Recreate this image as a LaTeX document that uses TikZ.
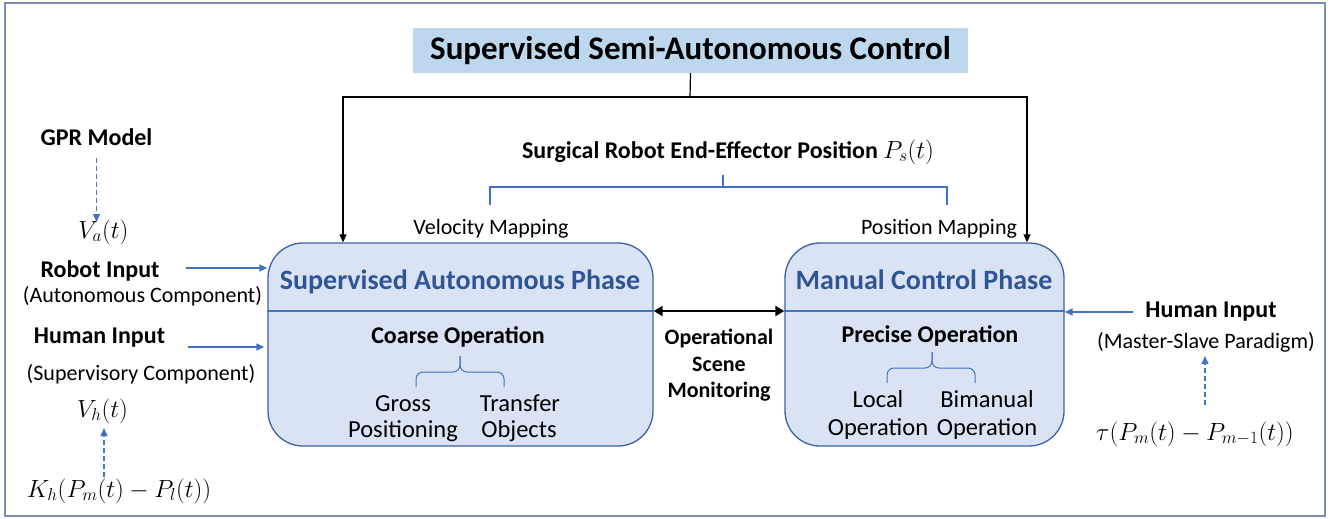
\documentclass[tikz,border=0pt]{standalone}
\usepackage[no-math]{fontspec}
\setmainfont{Carlito}
\usetikzlibrary{arrows.meta}
\definecolor{titlefill}{HTML}{BDD7EE}
\definecolor{boxfill}{HTML}{DAE3F3}
\definecolor{boxline}{HTML}{3A62A8}
\definecolor{phasetext}{HTML}{2F5597}
\definecolor{arrowblue}{HTML}{4472C4}
\definecolor{framecol}{HTML}{7A8DB5}
\tikzset{
  lbl/.style={inner sep=0pt, anchor=base, font=\fontsize{24}{28}\selectfont\bfseries},
  txt/.style={inner sep=0pt, anchor=base, font=\fontsize{22}{26}\selectfont},
  intxt/.style={inner sep=0pt, anchor=base, font=\fontsize{24.5}{28}\selectfont},
  mth/.style={inner sep=0pt, anchor=base, font=\fontsize{24}{28}\selectfont},
  phasetitle/.style={inner sep=0pt, anchor=base, text=phasetext, font=\fontsize{28}{32}\selectfont\bfseries},
  phasebox/.style={draw=boxline, fill=boxfill, line width=1.3pt, rounded corners=35pt, inner sep=0pt},
  titlebox/.style={fill=titlefill, inner sep=0pt, font=\fontsize{33}{38}\selectfont\bfseries},
  blk/.style={draw=black, line width=1.2pt},
  blkarrow/.style={blk, -{Triangle[length=8pt,width=7pt]}},
  dblarrow/.style={draw=black, line width=2.6pt, {Triangle[length=9pt,width=10pt]}-{Triangle[length=9pt,width=10pt]}},
  bluearrow/.style={draw=arrowblue, line width=1.3pt, -{Triangle[length=8pt,width=7pt]}},
  dasharrow/.style={draw=arrowblue, line width=1.3pt, dash pattern=on 5pt off 3pt, -{Triangle[length=8pt,width=7pt]}},
  bracket/.style={draw=arrowblue, line width=1.5pt},
  bracestyle/.style={draw=arrowblue, line width=1pt, rounded corners=7pt},
  divider/.style={draw=arrowblue, line width=1.2pt},
}
\begin{document}
\begin{tikzpicture}[x=1pt,y=-1pt]
\useasboundingbox (0,0) rectangle (1338,519);
\draw[draw=framecol, line width=1.2pt] (5,3) rectangle (1325,516);

% title
\node[titlebox, minimum width=555pt, minimum height=45pt] (title) at (690.5,50.5) {Supervised Semi-Autonomous Control};

% phase boxes
\node[phasebox, minimum width=385pt, minimum height=203pt] (lbox) at (460.5,344.5) {};
\node[phasebox, minimum width=279pt, minimum height=203pt] (rbox) at (924.5,344.5) {};
\coordinate (ldiv) at (268,311);
\coordinate (rdiv) at (1064,311);
\draw[divider] (lbox.west |- ldiv) -- (lbox.east |- ldiv);
\draw[divider] (rbox.west |- rdiv) -- (rbox.east |- rdiv);

% top connectors
\coordinate (split) at (690,97);
\coordinate (lturn) at (343,97);
\coordinate (rturn) at (1027,97);
\draw[blk] (title.south) -- (split);
\draw[blkarrow] (split) -- (lturn) -- (lturn |- lbox.north);
\draw[blkarrow] (split) -- (rturn) -- (rturn |- rbox.north);

% surgical robot label and bracket
\node[lbl] (surg) at (728,158) {Surgical Robot End-Effector Position {\mdseries$P_s(t)$}};
\coordinate (bt) at (723,175);
\coordinate (bm) at (723,187);
\coordinate (bl) at (490,205);
\coordinate (br) at (947,205);
\draw[bracket] (bt) -- (bm);
\draw[bracket] (bl) -- (bl |- bm) -- (br |- bm) -- (br);
\node[txt] (vmap) at (491,234) {Velocity Mapping};
\node[txt] (pmap) at (939,234) {Position Mapping};

% left phase contents
\node[phasetitle] (sap) at (460,289) {Supervised Autonomous Phase};
\node[lbl] (coarse) at (458,343) {Coarse Operation};
\draw[bracestyle] (416,387) -- (416,372) -- (460,372) -- (460,356);
\draw[bracestyle] (504,387) -- (504,372) -- (460,372) -- (460,356);
\node[intxt] (gross1) at (403,411) {Gross};
\node[intxt] (gross2) at (403,437) {Positioning};
\node[intxt] (trans1) at (520,411) {Transfer};
\node[intxt] (trans2) at (519,437) {Objects};

% right phase contents
\node[phasetitle] (mcp) at (924,289) {Manual Control Phase};
\node[lbl] (precise) at (930,342) {Precise Operation};
\draw[bracestyle] (887,383) -- (887,368) -- (932,368) -- (932,352);
\draw[bracestyle] (975,383) -- (975,368) -- (932,368) -- (932,352);
\node[intxt] (local1) at (878,407) {Local};
\node[intxt] (local2) at (878,435) {Operation};
\node[intxt] (bim1) at (987,407) {Bimanual};
\node[intxt] (bim2) at (987,435) {Operation};

% monitoring
\draw[dblarrow] (lbox.east |- ldiv) -- (rbox.west |- rdiv);
\node[lbl, font=\fontsize{22}{26}\selectfont\bfseries] (mon1) at (719,344) {Operational};
\node[lbl, font=\fontsize{22}{26}\selectfont\bfseries] (mon2) at (719,371) {Scene};
\node[lbl, font=\fontsize{22}{26}\selectfont\bfseries] (mon3) at (719,397) {Monitoring};

% left inputs
\node[lbl] (gpr) at (96.5,145) {GPR Model};
\node[mth] (va) at (103.5,238) {$V_a(t)$};
\draw[dasharrow] (gpr.south |- 0,158) -- (gpr.south |- 0,222);
\node[lbl] (robin) at (100,277) {Robot Input};
\node[txt] (auto) at (142.5,302) {(Autonomous Component)};
\coordinate (ra) at (186,268);
\draw[bluearrow] (ra) -- (lbox.west |- ra);
\node[lbl] (humin) at (99.5,343) {Human Input};
\node[txt] (superv) at (141,380) {(Supervisory Component)};
\coordinate (ha) at (188,347);
\draw[bluearrow] (ha) -- ([xshift=-3pt]lbox.west |- ha);
\node[mth] (vh) at (102.5,417) {$V_h(t)$};
\node[mth] (kh) at (119,497) {$K_h(P_m(t)-P_l(t))$};
\coordinate (kha) at (104,477);
\draw[dasharrow] (kha) -- (kha |- 0,428);

% right inputs
\node[lbl] (humr) at (1211,317) {Human Input};
\node[txt] (msp) at (1206,348) {(Master-Slave Paradigm)};
\coordinate (hra) at (1133,312);
\draw[bluearrow] (hra) -- (rbox.east |- hra);
\node[mth] (tau) at (1195,440) {$\tau(P_m(t)-P_{m-1}(t))$};
\coordinate (taua) at (1205,405);
\draw[dasharrow] (taua) -- (taua |- 0,356);
\end{tikzpicture}
\end{document}
